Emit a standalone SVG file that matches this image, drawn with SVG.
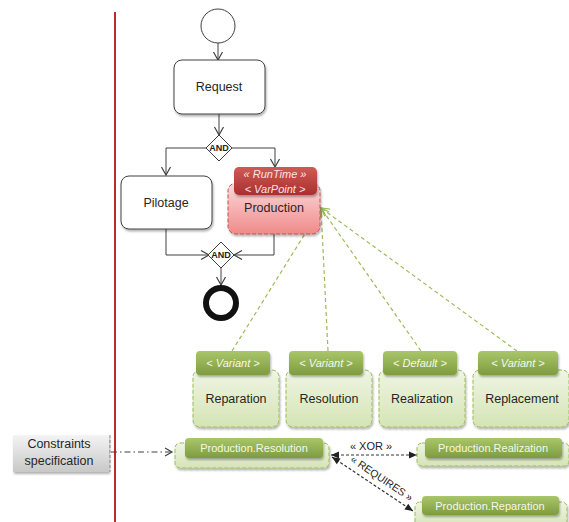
<svg xmlns="http://www.w3.org/2000/svg" width="569" height="522" viewBox="0 0 569 522">
<defs>
<linearGradient id="gHead" x1="0" y1="0" x2="0" y2="1"><stop offset="0" stop-color="#A9C66A"/><stop offset="1" stop-color="#7E9C3E"/></linearGradient>
<linearGradient id="gBody" x1="0" y1="0" x2="0" y2="1"><stop offset="0" stop-color="#EFF5E3"/><stop offset="1" stop-color="#D5E4B5"/></linearGradient>
<linearGradient id="rHead" x1="0" y1="0" x2="0" y2="1"><stop offset="0" stop-color="#D05A55"/><stop offset="1" stop-color="#A8302E"/></linearGradient>
<linearGradient id="rBody" x1="0" y1="0" x2="0" y2="1"><stop offset="0" stop-color="#FBD9D9"/><stop offset="1" stop-color="#F08A8A"/></linearGradient>
<linearGradient id="gray" x1="0" y1="0" x2="0" y2="1"><stop offset="0" stop-color="#F4F4F4"/><stop offset="1" stop-color="#C8C8C8"/></linearGradient>
<filter id="sh" x="-10%" y="-10%" width="130%" height="140%"><feDropShadow dx="1" dy="2" stdDeviation="1.2" flood-color="#000" flood-opacity="0.3"/></filter>
<marker id="aOpen" markerUnits="userSpaceOnUse" markerWidth="12" markerHeight="12" viewBox="0 0 12 12" refX="10" refY="6" orient="auto"><path d="M2,1.5 L10,6 L2,10.5" fill="none" stroke="#404040" stroke-width="1.2"/></marker>
<marker id="aGreen" markerUnits="userSpaceOnUse" markerWidth="12" markerHeight="12" viewBox="0 0 12 12" refX="10" refY="6" orient="auto"><path d="M2,1.5 L10,6 L2,10.5" fill="none" stroke="#9BBB59" stroke-width="1.2"/></marker>
<marker id="aDash" markerUnits="userSpaceOnUse" markerWidth="12" markerHeight="12" viewBox="0 0 12 12" refX="10" refY="6" orient="auto"><path d="M3,2 L10,6 L3,10" fill="none" stroke="#404040" stroke-width="1.2"/></marker>
<marker id="aFill" markerUnits="userSpaceOnUse" markerWidth="10" markerHeight="10" viewBox="0 0 10 10" refX="9" refY="5" orient="auto-start-reverse"><path d="M1,1.5 L9,5 L1,8.5 Z" fill="#222"/></marker>
<style>
text{font-family:"Liberation Sans",Arial,sans-serif;text-anchor:middle;dominant-baseline:central}
.lbl{font-size:12.5px;fill:#262626}
.box{fill:#fff;stroke:#404040;stroke-width:1}
.flow{fill:none;stroke:#404040;stroke-width:1}
.gdash{fill:none;stroke:#9BBB59;stroke-width:1.2;stroke-dasharray:4,3}
.ghead{fill:url(#gHead);filter:url(#sh)}
.gbody{fill:url(#gBody);stroke:#9BBB59;stroke-width:1;stroke-dasharray:4,2;filter:url(#sh)}
.htxt{font-size:11px;font-style:italic;fill:#F4F8EA}
.ctxt{font-size:11px;fill:#F4F8EA}
.rel{fill:none;stroke:#333;stroke-width:1.2;stroke-dasharray:3,2}
</style>
</defs>

<line x1="115" y1="12" x2="115" y2="522" stroke="#C0282D" stroke-width="2"/>

<g id="connectors">
<line class="flow" x1="218" y1="43" x2="218" y2="60" marker-end="url(#aOpen)"/>
<line class="flow" x1="219" y1="114" x2="219" y2="135" marker-end="url(#aOpen)"/>
<polyline class="flow" points="207,148 166,148 166,175" marker-end="url(#aOpen)"/>
<polyline class="flow" points="232,148 275,148 275,167" marker-end="url(#aOpen)"/>
<polyline class="flow" points="166,229 166,255 209,255" marker-end="url(#aOpen)"/>
<polyline class="flow" points="274,234 274,255 234,255" marker-end="url(#aOpen)"/>
<line class="flow" x1="221" y1="268" x2="221" y2="285" marker-end="url(#aOpen)"/>
<line class="gdash" x1="232" y1="351" x2="321" y2="208" marker-end="url(#aGreen)"/>
<line class="gdash" x1="328" y1="351" x2="321" y2="208" marker-end="url(#aGreen)"/>
<line class="gdash" x1="421" y1="351" x2="321" y2="208" marker-end="url(#aGreen)"/>
<line class="gdash" x1="517" y1="351" x2="321" y2="208" marker-end="url(#aGreen)"/>
<line x1="111" y1="452" x2="172" y2="452" fill="none" stroke="#404040" stroke-width="1" stroke-dasharray="6,3,1.5,3" marker-end="url(#aDash)"/>
<line class="rel" x1="331" y1="455" x2="417" y2="455" marker-start="url(#aFill)" marker-end="url(#aFill)"/>
<line class="rel" x1="332" y1="457" x2="413" y2="511" marker-start="url(#aFill)" marker-end="url(#aFill)"/>
<text x="371" y="446" style="font-size:11px;fill:#222">« XOR »</text>
<text x="382" y="478" transform="rotate(34 382 478)" style="font-size:10.5px;fill:#222">« REQUIRES »</text>
</g>

<g id="start"><circle cx="218" cy="26" r="17" fill="#fff" stroke="#404040" stroke-width="1"/></g>

<g id="request"><rect class="box" x="174" y="60" width="91" height="54" rx="8" filter="url(#sh)"/><text class="lbl" x="219" y="87">Request</text></g>

<g id="fork"><polygon points="219,135 232,148 219,161 206,148" fill="#fff" stroke="#404040"/><text x="219" y="148" style="font-size:9px;font-weight:bold;fill:#222">AND</text></g>

<g id="pilotage"><rect class="box" x="121" y="176" width="91" height="53" rx="8" filter="url(#sh)"/><text class="lbl" x="166" y="203">Pilotage</text></g>

<g id="production">
<rect x="228" y="183" width="92" height="51" rx="8" fill="url(#rBody)" stroke="#C0504D" stroke-dasharray="4,2" filter="url(#sh)"/>
<rect x="234" y="167" width="83" height="28" rx="5" fill="url(#rHead)" filter="url(#sh)"/>
<text x="275" y="174" style="font-size:11px;font-style:italic;fill:#FBE3E3">« RunTime »</text>
<text x="275" y="189" style="font-size:11px;font-style:italic;fill:#FBE3E3">&lt; VarPoint &gt;</text>
<text class="lbl" x="274" y="208">Production</text>
</g>

<g id="join"><polygon points="221,242 234,255 221,268 208,255" fill="#fff" stroke="#404040"/><text x="221" y="255" style="font-size:9px;font-weight:bold;fill:#222">AND</text></g>

<g id="end"><circle cx="221" cy="303" r="15" fill="#fff" stroke="#111" stroke-width="6"/></g>

<g id="reparation"><rect class="gbody" x="193" y="370" width="86" height="57" rx="7"/><rect class="ghead" x="196" y="351" width="74" height="24" rx="4"/><text class="htxt" x="233" y="363">&lt; Variant &gt;</text><text class="lbl" x="236" y="399">Reparation</text></g>

<g id="resolution"><rect class="gbody" x="286" y="370" width="86" height="57" rx="7"/><rect class="ghead" x="289" y="351" width="74" height="24" rx="4"/><text class="htxt" x="326" y="363">&lt; Variant &gt;</text><text class="lbl" x="329" y="399">Resolution</text></g>

<g id="realization"><rect class="gbody" x="379" y="370" width="86" height="57" rx="7"/><rect class="ghead" x="383" y="351" width="74" height="24" rx="4"/><text class="htxt" x="420" y="363">&lt; Default &gt;</text><text class="lbl" x="422" y="399">Realization</text></g>

<g id="replacement"><rect class="gbody" x="473" y="370" width="96" height="57" rx="7"/><rect class="ghead" x="478" y="351" width="80" height="24" rx="4"/><text class="htxt" x="518" y="363">&lt; Variant &gt;</text><text class="lbl" x="522" y="399">Replacement</text></g>

<g id="constraints"><rect x="13" y="435" width="96" height="37" fill="url(#gray)" filter="url(#sh)"/><line x1="110" y1="435" x2="110" y2="472" stroke="#888" stroke-dasharray="3,2"/><text class="lbl" x="59" y="444">Constraints</text><text class="lbl" x="59" y="461">specification</text></g>

<g id="prod-resolution"><rect class="gbody" x="175" y="443" width="154" height="25" rx="5"/><rect class="ghead" x="185" y="438" width="138" height="20" rx="4"/><text class="ctxt" x="254" y="448">Production.Resolution</text></g>

<g id="prod-realization"><rect class="gbody" x="417" y="443" width="152" height="23" rx="5"/><rect class="ghead" x="425" y="438" width="137" height="20" rx="4"/><text class="ctxt" x="493" y="448">Production.Realization</text></g>

<g id="prod-reparation"><rect class="gbody" x="415" y="502" width="152" height="26" rx="5"/><rect class="ghead" x="422" y="496" width="137" height="19" rx="4"/><text class="ctxt" x="490" y="505.5">Production.Reparation</text></g>
</svg>
